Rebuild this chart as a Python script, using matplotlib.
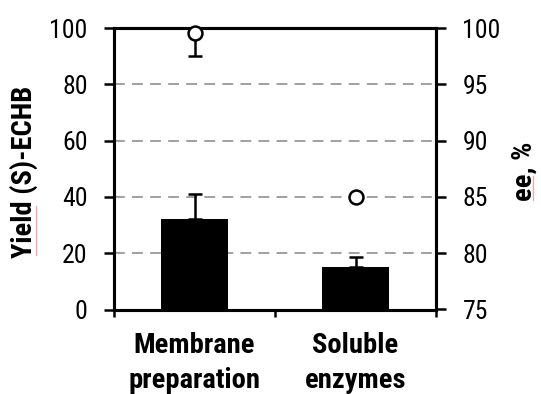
import matplotlib.pyplot as plt
import matplotlib.transforms as mtransforms
from matplotlib.lines import Line2D

plt.rcParams['font.family'] = ['Roboto Condensed', 'Liberation Sans', 'DejaVu Sans']

cat_line1 = ['Membrane', 'Soluble']
cat_line2 = ['preparation', 'enzymes']
yield_vals = [32.0, 15.1]
yield_err = [9.0, 3.6]
ee_vals = [99.6, 85.0]
ee_err_low = [2.1, 0.0]

fig = plt.figure(figsize=(5.41, 3.94), dpi=100)
ax = fig.add_axes([114 / 541, 1 - 309.5 / 394, 322 / 541, 281.5 / 394])

xpos = [0.5, 1.5]
ax.bar(xpos, yield_vals, width=0.41, color='black', zorder=3)
ax.errorbar(xpos, yield_vals, yerr=[[0, 0], yield_err], fmt='none', ecolor='black',
            elinewidth=1.8, capsize=5, capthick=1.8, zorder=2)

ax.set_xlim(0, 2)
ax.set_ylim(0, 100)
ax.set_yticks([0, 20, 40, 60, 80, 100])
ax.set_xticks([0, 1, 2])
ax.set_xticklabels([])
for y in [20, 40, 60, 80]:
    ax.axhline(y, color='#999999', lw=1.3, dashes=(6, 4), zorder=1)

for s in ax.spines.values():
    s.set_linewidth(2.2)
ax.tick_params(axis='y', direction='out', length=7, width=1.8, labelsize=18.5, pad=12)
ax.tick_params(axis='x', direction='out', length=5, width=1.8)

# two-line category names under the bars
trans = mtransforms.blended_transform_factory(ax.transData, fig.transFigure)
for x, l1, l2 in zip(xpos, cat_line1, cat_line2):
    ax.text(x, 1 - 353 / 394, l1, transform=trans, ha='center', va='baseline',
            fontsize=20.5, fontweight='bold')
    ax.text(x, 1 - 388 / 394, l2, transform=trans, ha='center', va='baseline',
            fontsize=20.5, fontweight='bold')

fig.text(24 / 541, 1 - 172 / 394, 'Yield (S)-ECHB', rotation=90, ha='center', va='center',
         fontsize=20.5, fontweight='bold')
fig.text(524 / 541, 1 - 171 / 394, 'ee, %', rotation=90, ha='center', va='center',
         fontsize=20.5, fontweight='bold')
# faint spell-check underlines
fig.add_artist(Line2D([35.5 / 541, 35.5 / 541], [1 - 255 / 394, 1 - 206 / 394],
                      color='#f2a6a6', lw=0.9))
fig.add_artist(Line2D([533 / 541, 533 / 541], [1 - 200 / 394, 1 - 176 / 394],
                      color='#f2a6a6', lw=0.9))

ax2 = ax.twinx()
ax2.set_ylim(75, 100)
ax2.set_yticks([75, 80, 85, 90, 95, 100])
ax2.tick_params(axis='y', direction='out', length=7, width=1.8, labelsize=18.5, pad=12)
for s in ax2.spines.values():
    s.set_linewidth(2.2)
ax2.errorbar(xpos, ee_vals, yerr=[ee_err_low, [0, 0]], fmt='o', color='black',
             mfc='white', mec='black', mew=1.8, ms=10, elinewidth=1.8,
             capsize=5, capthick=1.8, zorder=4, clip_on=False)

fig.savefig('out.png', dpi=100)
